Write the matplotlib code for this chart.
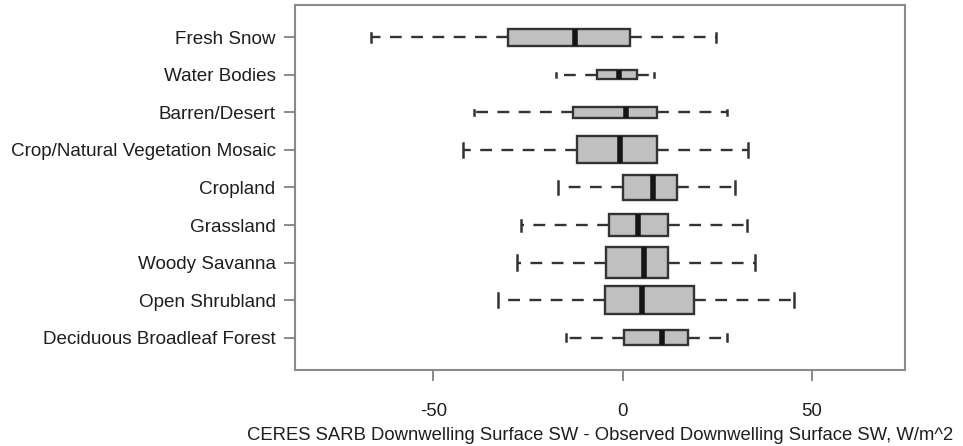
import matplotlib
matplotlib.use("Agg")
import matplotlib.pyplot as plt

plt.rcParams['font.family'] = ['Liberation Sans', 'DejaVu Sans']

# categories listed bottom to top
classes = ['Deciduous Broadleaf Forest', 'Open Shrubland', 'Woody Savanna',
           'Grassland', 'Cropland', 'Crop/Natural Vegetation Mosaic',
           'Barren/Desert', 'Water Bodies', 'Fresh Snow']
whisker_lo = [-15.0, -32.9, -27.8, -26.9, -17.1, -42.3, -39.3, -17.6, -66.6]
q1 = [0.4, -4.6, -4.4, -3.7, 0.0, -11.9, -13.2, -6.7, -30.2]
median = [10.5, 5.2, 5.8, 4.2, 8.0, -0.7, 0.9, -0.8, -12.6]
q3 = [17.2, 19.0, 12.1, 11.9, 14.3, 9.2, 9.2, 3.9, 2.0]
whisker_hi = [27.6, 45.4, 35.1, 32.8, 29.8, 33.1, 27.6, 8.2, 24.7]
# box heights vary with sample size (varwidth)
box_w = [0.40, 0.75, 0.83, 0.59, 0.67, 0.72, 0.29, 0.24, 0.45]

stats = []
for i in range(len(classes)):
    stats.append({'label': classes[i], 'whislo': whisker_lo[i], 'q1': q1[i],
                  'med': median[i], 'q3': q3[i], 'whishi': whisker_hi[i],
                  'fliers': []})

fig = plt.figure(figsize=(9.63, 4.46), dpi=100)
ax = fig.add_axes([0.3063, 0.1704, 0.6335, 0.8184])

edge = '#333333'
ax.bxp(stats, positions=range(1, len(classes) + 1), widths=box_w,
       capwidths=[w / 2 for w in box_w], vert=False, patch_artist=True,
       showfliers=False,
       boxprops=dict(facecolor='#c0c0c0', edgecolor=edge, linewidth=1.7),
       medianprops=dict(color='#151515', linewidth=4, solid_capstyle='butt'),
       whiskerprops=dict(color=edge, linewidth=1.7, linestyle=(0, (5, 4))),
       capprops=dict(color=edge, linewidth=1.8))

ax.set_xlim(-86.6, 74.7)
ax.set_ylim(0.14, 9.86)
ax.set_xticks([-50, 0, 50])
ax.set_xticklabels(['-50', '0', '50'])
ax.set_yticks(range(1, len(classes) + 1))
ax.set_yticklabels(classes)
ax.tick_params(axis='both', colors='#777777', labelcolor='#1e1e1e',
               labelsize=13.4, length=8, width=1.2, direction='out')
ax.tick_params(axis='y', labelsize=13.6, pad=6)
ax.tick_params(axis='x', pad=16)
for s in ax.spines.values():
    s.set_color('#8a8a8a')
    s.set_linewidth(1.5)
ax.set_xlabel('CERES SARB Downwelling Surface SW - Observed Downwelling Surface SW, W/m^2',
              fontsize=13.35, color='#1e1e1e', labelpad=5)

fig.savefig('out.png', dpi=100, facecolor='white')
